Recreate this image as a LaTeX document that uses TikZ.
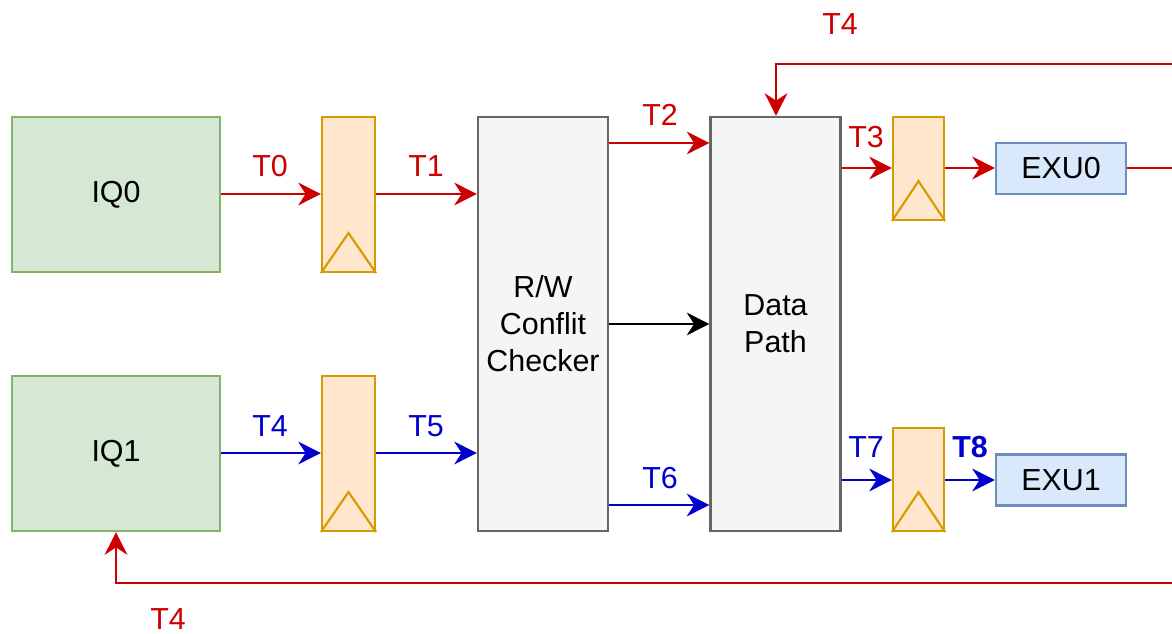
\documentclass[tikz,border=0pt]{standalone}
\usepackage{fontspec}
\setmainfont{Liberation Sans}
\usetikzlibrary{positioning,arrows.meta}

\definecolor{redline}{HTML}{CC0000}
\definecolor{blueline}{HTML}{0000CC}
\definecolor{iqfill}{HTML}{D5E8D4}
\definecolor{iqdraw}{HTML}{82B366}
\definecolor{regfill}{HTML}{FFE6CC}
\definecolor{regdraw}{HTML}{D79B00}
\definecolor{exufill}{HTML}{DAE8FC}
\definecolor{exudraw}{HTML}{6C8EBF}
\definecolor{blkfill}{HTML}{F5F5F5}
\definecolor{blkdraw}{HTML}{666666}

\begin{document}
\begin{tikzpicture}[
  x=0.75pt, y=-0.75pt,
  font=\fontsize{22.8}{27.8}\selectfont,
  queue/.style={draw=iqdraw, fill=iqfill, line width=1.6pt, minimum width=156pt, minimum height=116.25pt},
  reg/.style={draw=regdraw, fill=regfill, line width=1.6pt, minimum width=39.75pt, minimum height=116.25pt},
  regsmall/.style={reg, minimum width=38.25pt, minimum height=77.25pt},
  bigblock/.style={draw=blkdraw, fill=blkfill, line width=1.6pt, minimum width=97.5pt, minimum height=310.5pt, align=center},
  exu/.style={draw=exudraw, fill=exufill, line width=1.6pt, minimum width=97.5pt, minimum height=38.25pt},
  arrow/.style={-{Stealth[length=17pt, width=17pt, inset=5.5pt]}, line width=1.6pt},
  redarrow/.style={arrow, draw=redline},
  bluearrow/.style={arrow, draw=blueline},
  redlabel/.style={text=redline, inner sep=0pt},
  bluelabel/.style={text=blueline, inner sep=0pt}
]
\useasboundingbox (0,0) rectangle (1172,634);

% queues and pipeline registers
\node[queue] (iq0) at (116,194.5) {IQ0};
\node[queue] (iq1) at (116,453.5) {IQ1};
\node[reg] (reg0) at (348.5,194.5) {};
\node[reg] (reg1) at (348.5,453.5) {};
\node[bigblock] (rw) at (543,324) {R/W\\Conflit\\Checker};
\node[bigblock] (dp) at (775.5,324) {Data\\Path};
\node[regsmall] (reg3) at (918.5,168.5) {};
\node[regsmall] (reg7) at (918.5,479.5) {};
\node[exu] (exu0) at (1061,168.5) {EXU0};
\node[exu] (exu1) at (1061,480) {EXU1};

% clock triangles
\foreach \r in {reg0,reg1,reg3,reg7}
  \draw[regdraw, line width=1.6pt, line join=miter]
    (\r.south west) -- ([yshift=30pt]\r.south) -- (\r.south east);

% free ends at the right edge
\coordinate (out0) at (1172,168);
\coordinate (fbtop) at (1172,64);
\coordinate (fbbot) at (1172,583);

% red path
\draw[redarrow] (iq0.east |- 0,194) -- (reg0.west |- 0,194);
\draw[redarrow] (reg0.east |- 0,194) -- (rw.west |- 0,194);
\draw[redarrow] (rw.east |- 0,143) -- (dp.west |- 0,143);
\draw[redarrow] (dp.east |- 0,168) -- (reg3.west |- 0,168);
\draw[redarrow] (reg3.east |- 0,168) -- (exu0.west |- 0,168);
\draw[redline, line width=1.6pt] (exu0.east |- 0,168) -- (out0);
\draw[redarrow] (fbtop) -- (776,64) -- (dp.north -| 776,0);
\draw[redarrow] (fbbot) -- (116,583) -- (iq1.south);

% blue path
\draw[bluearrow] (iq1.east |- 0,453) -- (reg1.west |- 0,453);
\draw[bluearrow] (reg1.east |- 0,453) -- (rw.west |- 0,453);
\draw[bluearrow] (rw.east |- 0,505) -- (dp.west |- 0,505);
\draw[bluearrow] (dp.east |- 0,480) -- (reg7.west |- 0,480);
\draw[bluearrow] (reg7.east |- 0,480) -- (exu1.west |- 0,480);

% control
\draw[arrow] (rw.east |- 0,324) -- (dp.west |- 0,324);

% timing labels
\node[redlabel] (t0) at (270,166) {T0};
\node[redlabel] (t1) at (426,166) {T1};
\node[redlabel] (t2) at (660,115) {T2};
\node[redlabel] (t3) at (866,137) {T3};
\node[redlabel] (t4a) at (840,24) {T4};
\node[redlabel] (t4b) at (168,619) {T4};
\node[bluelabel] (t4) at (270,426) {T4};
\node[bluelabel] (t5) at (426,426) {T5};
\node[bluelabel] (t6) at (660,478) {T6};
\node[bluelabel] (t7) at (866,447) {T7};
\node[bluelabel, font=\fontsize{22.8}{27.8}\selectfont\bfseries] (t8) at (970,447) {T8};
\end{tikzpicture}
\end{document}
